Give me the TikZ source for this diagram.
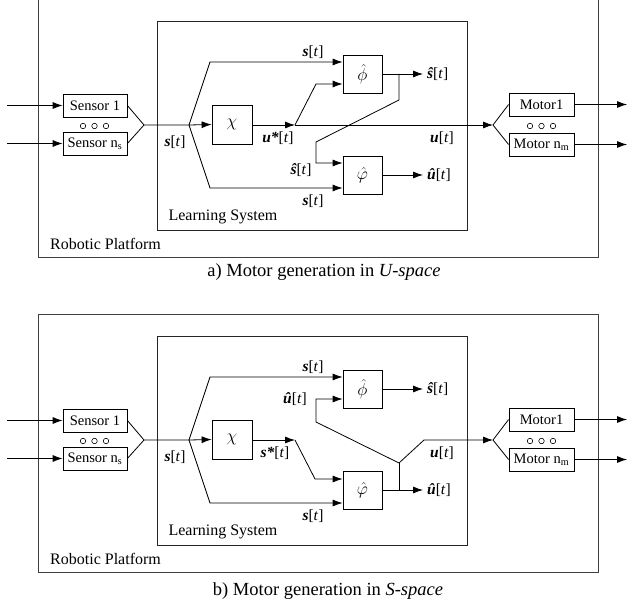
\documentclass[tikz,border=0pt]{standalone}
\usepackage{fontspec}
\setmainfont{Liberation Serif}
\usetikzlibrary{arrows.meta}
\newcommand\lvs{{\bfseries\itshape s}[\textit{t}]}
\newcommand\lvu{{\bfseries\itshape u}[\textit{t}]}
\newcommand\lvsh{{\bfseries\itshape \^s}[\textit{t}]}
\newcommand\lvuh{{\bfseries\itshape \^u}[\textit{t}]}
\newcommand\lvss{{\bfseries\itshape s*}[\textit{t}]}
\newcommand\lvus{{\bfseries\itshape u*}[\textit{t}]}
\tikzset{
  ln/.style={line width=0.8pt},
  arr/.style={ln,-{Latex[length=10pt,width=7pt]}},
  outerbox/.style={line width=1pt, draw=black!75},
  lsframe/.style={line width=0.9pt, draw=black!85},
  sbox/.style={draw, line width=0.8pt, minimum width=64pt, minimum height=23pt, inner sep=0pt, font=\fontsize{14.5}{14.5}\selectfont},
  fbox/.style={draw, line width=0.8pt, minimum width=39pt, minimum height=38pt, inner sep=0pt, font=\fontsize{19}{19}\selectfont},
  ring/.style={circle, draw, line width=0.6pt, minimum size=5.5pt, inner sep=0pt},
  lbl/.style={inner sep=0pt, font=\fontsize{15.5}{15.5}\selectfont},
  txt/.style={inner sep=0pt, font=\fontsize{16}{16}\selectfont},
  captxt/.style={inner sep=0pt, font=\fontsize{18.5}{18.5}\selectfont},
}
\newcommand\commonpart{%
  \draw[outerbox] (38,-1) rectangle (598,257);
  \node[txt, anchor=west] (rp) at (50,244) {Robotic Platform};
  \draw[lsframe] (157,21) rectangle (467,230);
  \node[txt] (ls) at (223,217) {Learning System};
  % sensors
  \node[sbox] (s1) at (95,105.5) {Sensor 1};
  \node[sbox] (sn) at (95,143.5) {Sensor n\textsubscript{s}};
  \node[ring] (sc1) at (83,126) {};
  \node[ring] (sc2) at (94.5,126) {};
  \node[ring] (sc3) at (106,126) {};
  \coordinate (in1) at (7,105.5);
  \coordinate (in2) at (7,143.5);
  \draw[arr] (in1) -- (s1.west);
  \draw[arr] (in2) -- (sn.west);
  \coordinate (m1) at (144,125);
  \coordinate (sp) at (189,125);
  \draw[ln] (s1.east) -- (m1) -- (sp);
  \draw[ln] (sn.east) -- (m1);
  \node[lbl] (lst) at (175,142) {\lvs};
  % chi
  \node[fbox, minimum height=39pt, minimum width=40pt] (chi) at (232,124.5) {$\chi$};
  \draw[arr] (sp) -- (chi.west);
  % phi boxes
  \node[fbox] (pt) at (362.5,74) {$\hat\phi$};
  \node[fbox] (pb) at (362.5,175) {$\hat\varphi$};
  \coordinate (up) at (210,62);
  \coordinate (dn) at (210,188);
  \draw[arr] (sp) -- (up) -- (pt.west |- up);
  \draw[arr] (sp) -- (dn) -- (pb.west |- dn);
  \node[lbl] (lst1) at (313,52) {\lvs};
  \node[lbl] (lst2) at (313,201) {\lvs};
  \coordinate (p) at (295,125);
  \draw[arr] (chi.east |- p) -- (p);
  \coordinate (ot) at (423,74);
  \coordinate (ob) at (423,175);
  \draw[arr] (pt.east) -- (ot);
  \draw[arr] (pb.east) -- (ob);
  \node[lbl, anchor=west] (lsh) at (427,74) {\lvsh};
  \node[lbl, anchor=west] (luh) at (427,175) {\lvuh};
  \node[lbl] (lu) at (442,138) {\lvu};
  % motors
  \node[sbox, minimum width=65pt] (mo1) at (541.5,104.5) {Motor1};
  \node[sbox, minimum width=65pt] (mon) at (541.5,144.5) {Motor n\textsubscript{m}};
  \node[ring] (mc1) at (530,126) {};
  \node[ring] (mc2) at (541.5,126) {};
  \node[ring] (mc3) at (553,126) {};
  \coordinate (q) at (493,125);
  \draw[ln] (q) -- (mo1.west);
  \draw[ln] (q) -- (mon.west);
  \coordinate (out1) at (627,104.5);
  \coordinate (out2) at (627,144.5);
  \draw[arr] (mo1.east) -- (out1);
  \draw[arr] (mon.east) -- (out2);
}
\begin{document}
\begin{tikzpicture}[x=1pt,y=-1pt]
\useasboundingbox (0,0) rectangle (627,607);
% ---------------- panel a
\begin{scope}[name prefix=a-]
  \commonpart
  \node[lbl] (lus) at (278,138) {\lvus};
  \coordinate (k1) at (316,84);
  \draw[arr] (p) -- (k1) -- (pt.west |- k1);
  \draw[arr] (p) -- (q);
  \coordinate (b0) at (399,74);
  \coordinate (b1) at (399,100);
  \coordinate (b2) at (316,142);
  \coordinate (b3) at (316,163);
  \draw[arr] (b0) -- (b1) -- (b2) -- (b3) -- (pb.west |- b3);
  \node[lbl] (lsh2) at (301,170) {\lvsh};
\end{scope}
\node[captxt] (capa) at (324,272) {a) Motor generation in \textit{U-space}};
% ---------------- panel b
\begin{scope}[name prefix=b-, yshift=-315pt]
  \commonpart
  \node[lbl] (lss) at (275,138) {\lvss};
  \coordinate (k1) at (315,164);
  \draw[arr] (p) -- (k1) -- (pb.west |- k1);
  \coordinate (j) at (399,148);
  \coordinate (j0) at (399,175);
  \draw[ln] (j0) -- (j);
  \coordinate (j1) at (424,125);
  \draw[arr] (j) -- (j1) -- (q);
  \coordinate (j2) at (316,107);
  \coordinate (j3) at (316,84);
  \draw[arr] (j) -- (j2) -- (j3) -- (pt.west |- j3);
  \node[lbl] (luh2) at (295,84) {\lvuh};
\end{scope}
\node[captxt] (capb) at (328,591) {b) Motor generation in \textit{S-space}};
\end{tikzpicture}
\end{document}
